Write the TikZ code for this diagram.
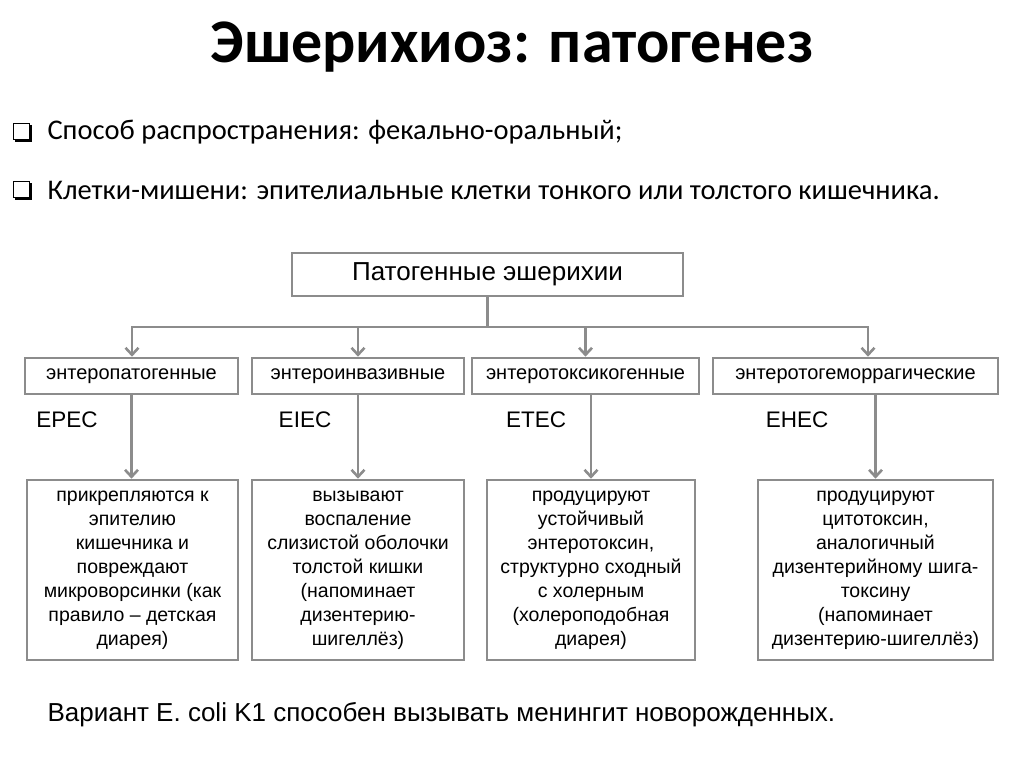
\documentclass[tikz,border=0pt]{standalone}
\usepackage{fontspec}
\setmainfont{Liberation Sans}
\newfontfamily\slidefont{Carlito}
\usetikzlibrary{arrows.meta}
\definecolor{lgray}{RGB}{140,140,140}

\begin{document}
\begin{tikzpicture}[x=1pt,y=-1pt,
    lnk/.style={draw=lgray, line width=2.6pt},
    pfeil/.style={lnk, -{Straight Barb[length=7pt,width=13pt]}},
    grp/.style={lnk, minimum height=36pt, inner sep=0pt, font=\fontsize{20}{24}\selectfont},
    info/.style={lnk, minimum height=180pt, inner sep=0pt, align=center, font=\fontsize{19.5}{24}\selectfont},
    kuerzel/.style={font=\fontsize{22.5}{26}\selectfont}]
    \useasboundingbox (0,0) rectangle (1024,767);

    % Titel und Aufzaehlung
    \node[font=\slidefont\bfseries\fontsize{62}{68}\selectfont] (titel) at (512,47) {Эшерихиоз: патогенез};
    \foreach \y in {131,189} {
        \draw[black, line width=0.8pt] (13,\y-8) rectangle (29,\y+8);
        \fill[black] (29,\y-6) rectangle (32,\y+11);
        \fill[black] (15,\y+8) rectangle (32,\y+11);
    }
    \node[anchor=west, font=\slidefont\fontsize{28.5}{32}\selectfont] (punkt1) at (44,132) {Способ распространения: фекально-оральный;};
    \node[anchor=west, font=\slidefont\fontsize{28.5}{32}\selectfont] (punkt2) at (44,190) {Клетки-мишени: эпителиальные клетки тонкого или толстого кишечника.};

    % Schema
    \node[lnk, minimum width=391pt, minimum height=43pt, font=\fontsize{26}{30}\selectfont] (wurzel) at (487.5,274.5) {Патогенные эшерихии};

    \node[grp, minimum width=213pt] (g1) at (131.5,376) {энтеропатогенные};
    \node[grp, minimum width=212pt] (g2) at (358,376) {энтероинвазивные};
    \node[grp, minimum width=227pt] (g3) at (585.5,376) {энтеротоксикогенные};
    \node[grp, minimum width=285pt] (g4) at (855.5,376) {энтеротогеморрагические};

    \coordinate (barL) at (132,327);
    \coordinate (barR) at (868,327);
    \draw[lnk] (wurzel.south) -- (wurzel.south |- barL);
    \draw[lnk, {Straight Barb[length=7pt,width=13pt]}-{Straight Barb[length=7pt,width=13pt]}] (barL |- g1.north) -- (barL) -- (barR) -- (barR |- g4.north);
    \draw[pfeil] (g2.north |- barL) -- (g2.north);
    \draw[pfeil] (g3.north |- barL) -- (g3.north);

    \node[kuerzel] (k1) at (67,420) {EPEC};
    \node[kuerzel] (k2) at (305,420) {EIEC};
    \node[kuerzel] (k3) at (536,420) {ETEC};
    \node[kuerzel] (k4) at (797,420) {EHEC};

    \node[info, minimum width=211pt] (i1) at (132.5,570) {прикрепляются к\\эпителию\\кишечника и\\повреждают\\микроворсинки (как\\правило -- детская\\диарея)};
    \node[info, minimum width=212pt] (i2) at (358,570) {вызывают\\воспаление\\слизистой оболочки\\толстой кишки\\(напоминает\\дизентерию-\\шигеллёз)};
    \node[info, minimum width=208pt] (i3) at (591,570) {продуцируют\\устойчивый\\энтеротоксин,\\структурно сходный\\с холерным\\(холероподобная\\диарея)};
    \node[info, minimum width=235pt] (i4) at (875.5,570) {продуцируют\\цитотоксин,\\аналогичный\\дизентерийному шига-\\токсину\\(напоминает\\дизентерию-шигеллёз)};

    \draw[pfeil] (g1.south) -- (g1.south |- i1.north);
    \draw[pfeil] (g2.south) -- (g2.south |- i2.north);
    \draw[pfeil] (i3.north |- g3.south) -- (i3.north);
    \draw[pfeil] (i4.north |- g4.south) -- (i4.north);

    % Fussnote
    \node[anchor=west, font=\fontsize{26}{30}\selectfont] (fuss) at (44,715) {Вариант E. coli K1 способен вызывать менингит новорожденных.};
\end{tikzpicture}
\end{document}
